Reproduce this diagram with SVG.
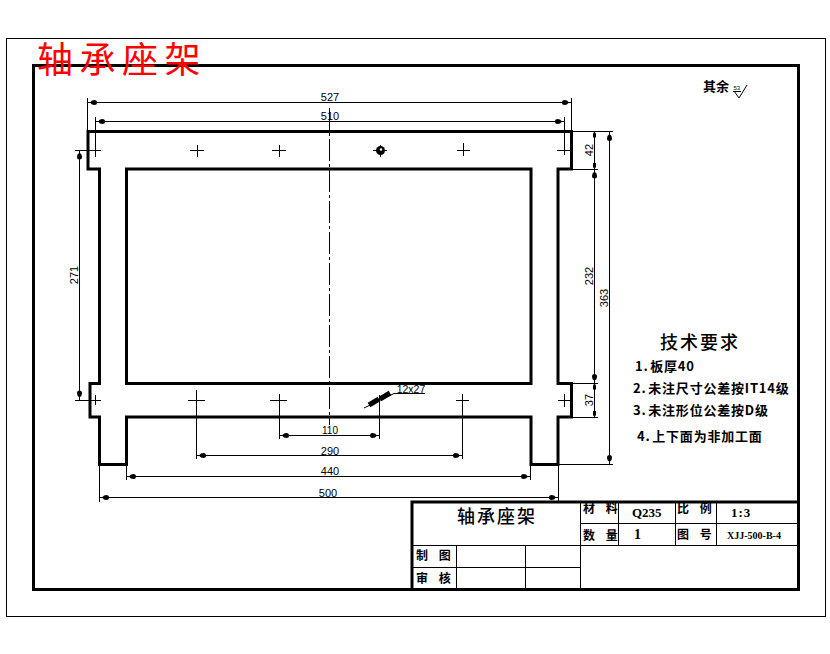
<svg xmlns="http://www.w3.org/2000/svg" width="830" height="654" viewBox="0 0 830 654">
<style>
.thin{fill:none;stroke:#000;stroke-width:1}
.dim{fill:none;stroke:#000;stroke-width:1;marker-start:url(#blob);marker-end:url(#blob)}
.dims{fill:none;stroke:#000;stroke-width:1;marker-start:url(#tick);marker-end:url(#tick)}
.thick{fill:none;stroke:#000;stroke-width:3}
.part{fill:none;stroke:#000;stroke-width:3;stroke-linejoin:miter}
.dt{font-family:"Liberation Sans",sans-serif;font-size:11px;fill:#000;text-anchor:middle}
.cn{font-family:"Noto Sans CJK SC","Liberation Serif",sans-serif;fill:#000;font-weight:700}
.sm{font-size:12px;word-spacing:8px}
.nt{font-size:13px;letter-spacing:.8px;word-spacing:-2px}
.hd{font-size:18px;letter-spacing:2px;font-weight:500}
.ser{font-family:"Liberation Serif","Noto Sans CJK SC",serif;font-weight:700;fill:#000}
</style>
<defs>
<marker id="blob" markerUnits="userSpaceOnUse" markerWidth="12" markerHeight="8" refX="12" refY="4" orient="auto-start-reverse" viewBox="0 0 12 8">
<path d="M12 4L9 3.500Q8 1.500 5 1.500Q2.500 1.500 2.500 4Q2.500 6.500 5 6.500Q8 6.500 9 4.500Z" fill="#000"/>
</marker>
<marker id="tick" markerUnits="userSpaceOnUse" markerWidth="8" markerHeight="6" refX="8" refY="3" orient="auto-start-reverse" viewBox="0 0 8 6">
<path d="M8 3L6 1.500H2V4.500H6Z" fill="#000"/>
</marker>
</defs>
<rect x="6.500" y="38.500" width="819" height="578" class="thin"/>
<rect x="33.500" y="65.500" width="765" height="524" class="thick"/>
<g id="part">
<path class="part" d="M88 131.500H571.500V169H558V383.500H571.500V417H558V464.500H531V417H126.500V464.500H99.500V417H90V383.500H99.500V169H88Z"/>
<path class="part" d="M126.500 169H531V383.500H126.500Z"/>
</g>
<g id="centerlines">
<path class="thin" stroke-dasharray="22 3 3 3" d="M329.500 108V425"/>
<path class="thin" d="M75 150.500H101M190 150.500H204M272 150.500H286M457 150.500H470M557 150.500H571M197.500 145V157M279.500 145V157M463.500 143V156"/>
<path class="thin" d="M75 400.500H101M188 400.500H205M270 400.500H287M456 400.500H469M558 400.500H571M95.500 395V405M564.500 394V407"/>
</g>
<g id="connectors">
<path class="thin" d="M87.500 98V131M95.500 117V157M571.500 98V131M564.500 117V155"/>
<path class="thin" d="M196.500 390V459M279.500 394V439M379.500 395V439M462.500 394V459M126.500 465V480M99.500 465V502M530.500 465V480M558.500 465V502"/>
<path class="thin" d="M572 131.500H613M572 169.500H598M559 383.500H598M559 417.500H598M559 464.500H613"/>
<path class="dim" d="M87.500 102.500H571.500"/>
<path class="dim" d="M95.500 121.500H564.500"/>
<path class="dim" d="M79.500 150V400"/>
<path class="dims" d="M594.500 131.500V169"/>
<path class="dim" d="M594.500 169V383.500"/>
<path class="dims" d="M594.500 383.500V417"/>
<path class="dim" d="M609.500 131.500V464.500"/>
<path class="dim" d="M279.500 435.500H379.500"/>
<path class="dim" d="M196.500 455.500H462.500"/>
<path class="dim" d="M126.500 476.500H530.500"/>
<path class="dim" d="M99.500 497.500H558.500"/>
<path class="thin" d="M364 408L394 393.500H425"/>
<path class="thick" d="M369 405L379 399M380 399L390 393" style="stroke-width:5"/>
<path class="thin" d="M373 150.500H387M380.500 145V157"/>
<circle cx="380.500" cy="150.500" r="4.500" fill="#000"/>
<circle cx="381" cy="149.500" r="1.200" fill="#fff"/>
</g>
<g id="dimension-labels">
<text class="dt" x="330" y="101">527</text>
<text class="dt" x="330" y="120">510</text>
<text class="dt" transform="translate(78 275) rotate(-90)">271</text>
<text class="dt" transform="translate(593 150) rotate(-90)">42</text>
<text class="dt" transform="translate(593 276) rotate(-90)">232</text>
<text class="dt" transform="translate(593 400) rotate(-90)">37</text>
<text class="dt" transform="translate(608 298) rotate(-90)">363</text>
<text class="dt" x="330" y="434" style="font-size:10px">110</text>
<text class="dt" x="330" y="455">290</text>
<text class="dt" x="330" y="475">440</text>
<text class="dt" x="328" y="497">500</text>
<text class="dt" x="411" y="392.500" style="font-size:10.500px">12x27</text>
</g>
<g id="title"><text x="37" y="73" font-family="'Noto Sans CJK SC',sans-serif" font-size="36" letter-spacing="6.500" fill="#f00">轴承座架</text></g>
<g id="roughness">
<text class="cn" x="703" y="91" font-size="13">其余</text>
<text x="733.500" y="90" font-family="'Liberation Sans',sans-serif" font-size="6" fill="#000">53</text>
<path class="thin" d="M733 91.500H741M734 91L739 98L747 85"/>
</g>
<g id="notes">
<text class="cn hd" x="660" y="349">技术要求</text>
<text class="cn nt" x="635" y="371">1. 板厚40</text>
<text class="cn nt" x="633" y="393">2. 未注尺寸公差按IT14级</text>
<text class="cn nt" x="633" y="415">3. 未注形位公差按D级</text>
<text class="cn nt" x="637" y="441">4. 上下面为非加工面</text>
</g>
<g id="title-block">
<path class="thick" d="M412 589V502H798"/>
<path class="thin" d="M581 523.500H798M412 545.500H798M412 567.500H581M456.500 545V589M525.500 545V589M580.500 502V589M618.500 502V545M675.500 502V545M716.500 502V545"/>
<text class="cn hd" x="457" y="523">轴承座架</text>
<text class="cn sm" x="583" y="513">材 料</text>
<text class="ser" x="632" y="517" font-size="13">Q235</text>
<text class="cn sm" x="677" y="513">比 例</text>
<text class="ser" x="731" y="517" font-size="13" letter-spacing="1">1:3</text>
<text class="cn sm" x="583" y="540">数 量</text>
<text class="ser" x="634" y="539" font-size="14">1</text>
<text class="cn sm" x="677" y="539">图 号</text>
<text class="ser" x="727" y="539" font-size="10">XJJ-500-B-4</text>
<text class="cn sm" x="416" y="560">制 图</text>
<text class="cn sm" x="416" y="583">审 核</text>
</g>
</svg>
